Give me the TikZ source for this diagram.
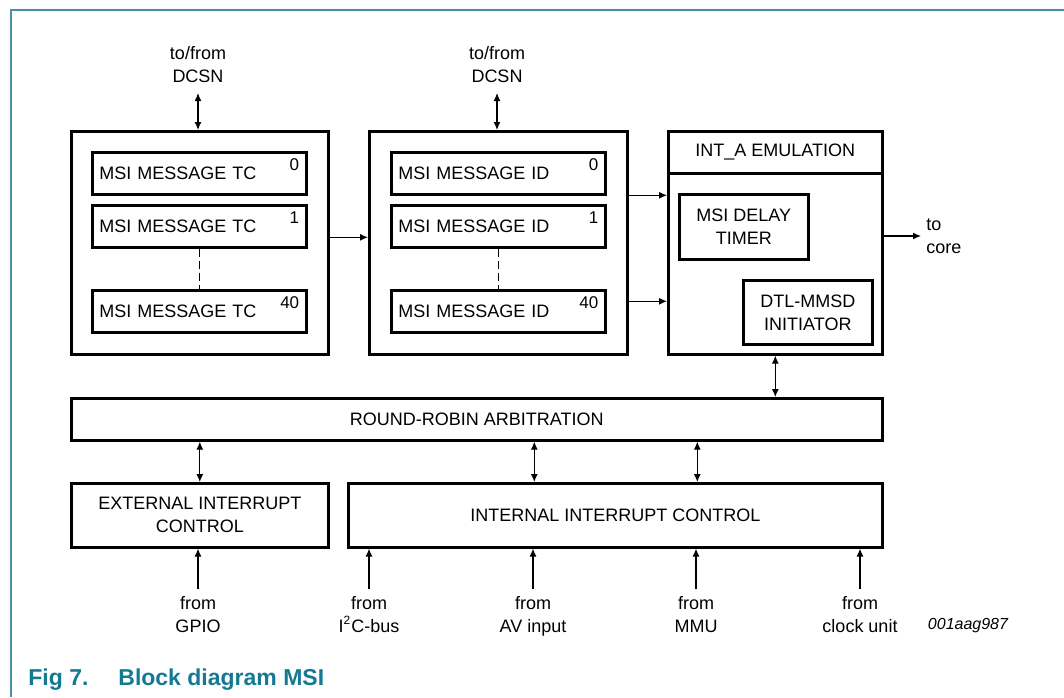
\documentclass[tikz,border=0pt]{standalone}
\usepackage{fontspec}
\setmainfont{Liberation Sans}
\usetikzlibrary{arrows.meta}
\definecolor{figteal}{RGB}{20,122,148}
\definecolor{frameteal}{RGB}{70,145,165}
\begin{document}
\begin{tikzpicture}[x=0.5pt,y=-0.5pt,font=\fontsize{9}{11.5}\selectfont,
blk/.style={draw, line width=1.3pt, inner sep=0pt, align=center, anchor=north west},
msg/.style={blk, minimum width=107pt, minimum height=21pt, text width=100pt, align=left},
idx/.style={font=\fontsize{8.5}{9}\selectfont, inner sep=0pt, anchor=north east},
lbl/.style={align=center, inner sep=0pt},
gap/.style={dash pattern=on 4pt off 2pt, line width=0.6pt},
arr/.style={-{Latex[length=4pt,width=3.5pt]}, line width=0.6pt},
darr/.style={{Latex[length=4pt,width=3.5pt]}-{Latex[length=4pt,width=3.5pt]}, line width=0.6pt}]
\useasboundingbox (0,0) rectangle (1064,697);
\draw[frameteal, line width=0.8pt] (1064,10) -- (11,10) -- (11,697);
\node[blk, minimum width=128.5pt, minimum height=111.5pt] (tc) at (70,130) {};
\node[msg] (tc0) at (91,151) {MSI MESSAGE TC};
\node[msg] (tc1) at (91,204) {MSI MESSAGE TC};
\node[msg] (tc40) at (91,289) {MSI MESSAGE TC};
\node[idx] (tc0n) at ([xshift=-4pt,yshift=-3.5pt]tc0.north east) {0};
\node[idx] (tc1n) at ([xshift=-4pt,yshift=-3.5pt]tc1.north east) {1};
\node[idx] (tc40n) at ([xshift=-4pt,yshift=-3.5pt]tc40.north east) {40};
\draw[gap] (tc1.south) -- (tc40.north);
\node[blk, minimum width=129pt, minimum height=111.5pt] (id) at (368,130) {};
\node[msg] (id0) at (390,151) {MSI MESSAGE ID};
\node[msg] (id1) at (390,204) {MSI MESSAGE ID};
\node[msg] (id40) at (390,289) {MSI MESSAGE ID};
\node[idx] (id0n) at ([xshift=-4pt,yshift=-3.5pt]id0.north east) {0};
\node[idx] (id1n) at ([xshift=-4pt,yshift=-3.5pt]id1.north east) {1};
\node[idx] (id40n) at ([xshift=-4pt,yshift=-3.5pt]id40.north east) {40};
\draw[gap] (id1.south) -- (id40.north);
\node[blk, minimum width=107pt, minimum height=111.5pt] (inta) at (667,130) {};
\node[blk, minimum width=107pt, minimum height=21pt] (intahd) at (667,130) {INT\_A EMULATION};
\node[blk, minimum width=64.5pt, minimum height=32.5pt] (timer) at (678,193) {MSI DELAY\\TIMER};
\node[blk, minimum width=64.5pt, minimum height=32pt] (dtl) at (742,279) {DTL-MMSD\\INITIATOR};
\node[blk, minimum width=405.5pt, minimum height=21pt] (rr) at (70,397) {ROUND-ROBIN ARBITRATION};
\node[blk, minimum width=128.5pt, minimum height=32pt] (ext) at (70,482) {EXTERNAL INTERRUPT\\CONTROL};
\node[blk, minimum width=267pt, minimum height=32pt] (intc) at (347,482) {INTERNAL INTERRUPT CONTROL};
\node[lbl, anchor=south] (dcsnA) at (198,83) {to/from\\DCSN};
\node[lbl, anchor=south] (dcsnB) at (497,83) {to/from\\DCSN};
\node[lbl, anchor=west, align=left] (core) at (926,236) {to\\core};
\draw[darr] ([yshift=-5pt]dcsnA.south) -- (dcsnA.south |- tc.north);
\draw[darr] ([yshift=-5pt]dcsnB.south) -- (dcsnB.south |- id.north);
\draw[arr] ([yshift=2.75pt]tc.east) -- ([yshift=2.75pt]id.west);
\draw[arr] ([yshift=23.75pt]id.east) -- ([yshift=23.75pt]inta.west);
\draw[arr] ([yshift=-29.25pt]id.east) -- ([yshift=-29.25pt]inta.west);
\draw[arr] (inta.east |- core.west) -- ([xshift=-2.5pt]core.west);
\draw[darr] (inta.south) -- (inta.south |- rr.north);
\draw[darr] (rr.south -| ext.north) -- (ext.north);
\draw[darr] ([xshift=-40.5pt]intc.north |- rr.south) -- ([xshift=-40.5pt]intc.north);
\draw[darr] ([xshift=41pt]intc.north |- rr.south) -- ([xshift=41pt]intc.north);
\foreach \x/\nm/\txt in {198/gpio/GPIO, 369/iic/{I\textsuperscript{2}C-bus}, 533/av/AV input, 696/mmu/MMU, 860/clk/clock unit}{
  \node[lbl, anchor=north] (from\nm) at (\x,596) {from\\\txt};
  \draw[arr] ([yshift=3.5pt]from\nm.north) -- (from\nm.north |- ext.south);
}
\node[inner sep=0pt, font=\fontsize{8}{9}\selectfont\itshape] (figid) at (968,626) {001aag987};
\node[anchor=base west, inner sep=0pt, text=figteal, font=\fontsize{11.5}{13}\selectfont\bfseries] (fignum) at (28,685) {Fig 7.};
\node[anchor=base west, inner sep=0pt, text=figteal, font=\fontsize{11.5}{13}\selectfont\bfseries] (figtitle) at (118,685) {Block diagram MSI};
\end{tikzpicture}
\end{document}
